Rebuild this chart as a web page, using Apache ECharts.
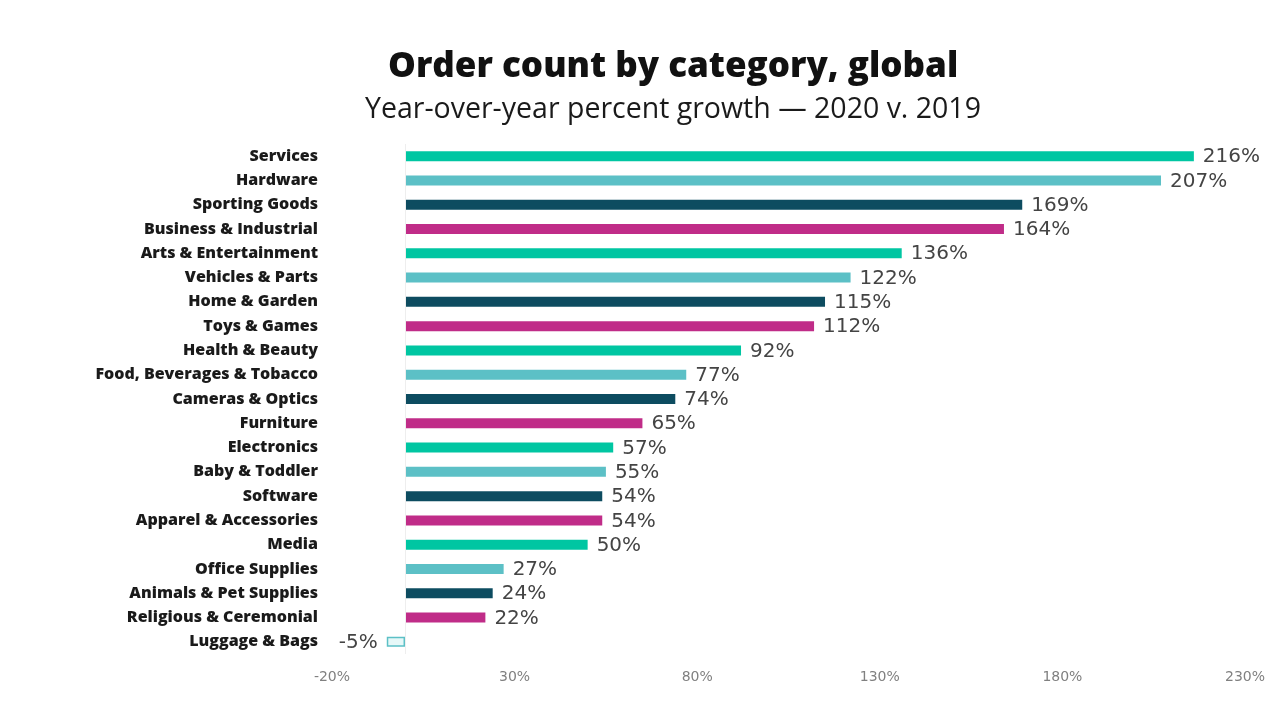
<!DOCTYPE html>
<html>
<head>
<meta charset="utf-8">
<script src="https://cdn.jsdelivr.net/npm/echarts@6/dist/echarts.min.js"></script>
<style>
  html, body { margin: 0; padding: 0; background: #fff; }
  #chart { width: 1283px; height: 707px; }
</style>
</head>
<body>
<div id="chart"></div>
<script>
// Categories listed top to bottom
const categories = [
  'Services', 'Hardware', 'Sporting Goods', 'Business & Industrial',
  'Arts & Entertainment', 'Vehicles & Parts', 'Home & Garden', 'Toys & Games',
  'Health & Beauty', 'Food, Beverages & Tobacco', 'Cameras & Optics', 'Furniture',
  'Electronics', 'Baby & Toddler', 'Software', 'Apparel & Accessories',
  'Media', 'Office Supplies', 'Animals & Pet Supplies', 'Religious & Ceremonial',
  'Luggage & Bags'
];
// Year-over-year growth, percent
const growth = [216, 207, 169, 164, 136, 122, 115, 112, 92, 77, 74, 65, 57, 55, 54, 54, 50, 27, 24, 22, -5];
// Axis tick values
const tickValues = [-20, 30, 80, 130, 180, 230];

const palette = ['#00c6a2', '#5cc0c6', '#0d4c60', '#c02c88'];

const barData = growth.map((v, i) => {
  if (v < 0) {
    return {
      value: v,
      itemStyle: { color: '#e6f8f8', borderColor: '#5cc0c6', borderWidth: 1.5 },
      label: { position: 'left' }
    };
  }
  return { value: v, itemStyle: { color: palette[i % 4] } };
});

const chart = echarts.init(document.getElementById('chart'));
chart.setOption({
  backgroundColor: '#ffffff',
  animation: false,
  title: [
    {
      text: 'Order count by category, global',
      left: 383, top: 45,
      textStyle: { fontFamily: 'Open Sans', fontWeight: 800, fontSize: 35, color: '#111' }
    },
    {
      text: 'Year-over-year percent growth \u2014 2020 v. 2019',
      left: 360, top: 90,
      textStyle: { fontFamily: 'Open Sans', fontWeight: 400, fontSize: 28.5, color: '#1a1a1a' }
    }
  ],
  grid: { left: 332, right: 38, top: 144, bottom: 53, containLabel: false },
  xAxis: {
    type: 'value',
    min: -20, max: 230,
    splitLine: { show: false },
    axisLine: { show: false },
    axisTick: { show: false },
    axisLabel: {
      customValues: tickValues,
      formatter: v => v + '%',
      fontFamily: 'DejaVu Sans', fontSize: 14, color: '#808080', margin: 16
    }
  },
  yAxis: {
    type: 'category',
    data: categories,
    inverse: true,
    axisLine: { show: false },
    axisTick: { show: false },
    axisLabel: {
      fontFamily: 'Open Sans', fontWeight: 800, fontSize: 16, color: '#1a1a1a', margin: 14
    }
  },
  series: [{
    type: 'bar',
    data: barData,
    barWidth: 10,
    label: {
      show: true,
      position: 'right',
      distance: 9,
      offset: [0, 1],
      formatter: p => p.value + '%',
      fontFamily: 'DejaVu Sans', fontSize: 20, color: '#444'
    },
    markLine: {
      silent: true,
      symbol: 'none',
      label: { show: false },
      lineStyle: { color: '#eeeeee', width: 1, type: 'solid' },
      data: [{ xAxis: 0 }]
    }
  }]
});
</script>
</body>
</html>
